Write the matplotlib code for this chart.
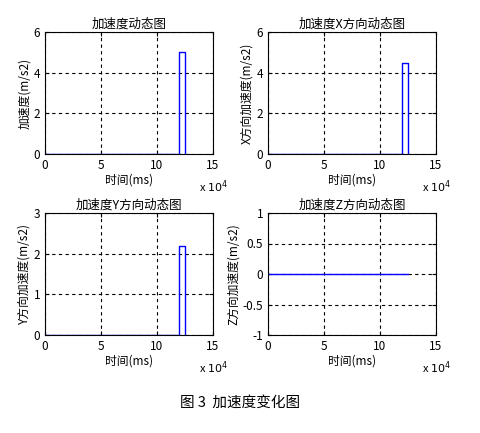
import matplotlib.pyplot as plt

plt.rcParams['font.family'] = ['Noto Sans CJK SC', 'DejaVu Sans']
plt.rcParams['font.size'] = 8.5

# time (ms) and acceleration samples
t = [0, 120000, 120000, 125000, 125000]
acc = [0, 0, 5.0, 5.0, 0]
acc_x = [0, 0, 4.5, 4.5, 0]
acc_y = [0, 0, 2.2, 2.2, 0]
t_z = [0, 125000]
acc_z = [0, 0]

panels = [
    ("加速度动态图", "加速度(m/s2)", t, acc, (0, 6), [0, 2, 4, 6]),
    ("加速度X方向动态图", "X方向加速度(m/s2)", t, acc_x, (0, 6), [0, 2, 4, 6]),
    ("加速度Y方向动态图", "Y方向加速度(m/s2)", t, acc_y, (0, 3), [0, 1, 2, 3]),
    ("加速度Z方向动态图", "Z方向加速度(m/s2)", t_z, acc_z, (-1, 1), [-1, -0.5, 0, 0.5, 1]),
]
boxes = [(45, 32), (268, 32), (45, 213), (268, 213)]

fig = plt.figure(figsize=(4.8, 4.33), dpi=100)
W, H = 480, 433
for (title, ylabel, x, y, ylim, yt), (px, py) in zip(panels, boxes):
    ax = fig.add_axes([px / W, 1 - (py + 122) / H, 168 / W, 122 / H])
    ax.plot(x, y, color="blue", linewidth=1)
    ax.set_xlim(0, 150000)
    ax.set_ylim(*ylim)
    ax.set_xticks([0, 50000, 100000, 150000])
    ax.set_xticklabels(["0", "5", "10", "15"])
    ax.set_yticks(yt)
    ax.set_yticklabels([f"{v:g}" for v in yt])
    ax.grid(True, color="black", linestyle=(0, (3, 3)), linewidth=0.8)
    ax.tick_params(direction="in", length=3, top=True, right=True)
    ax.set_title(title, fontsize=9, pad=3)
    ax.set_xlabel("时间(ms)", labelpad=1)
    ax.set_ylabel(ylabel, labelpad=2)
    ax.text(1.0, -0.2, r"x $10^4$", transform=ax.transAxes, ha="center", va="top", fontsize=8)

fig.text(0.5, 1 - 403 / H, "图 3  加速度变化图", ha="center", va="center", fontsize=10.5)
fig.savefig("out.png", dpi=100)
